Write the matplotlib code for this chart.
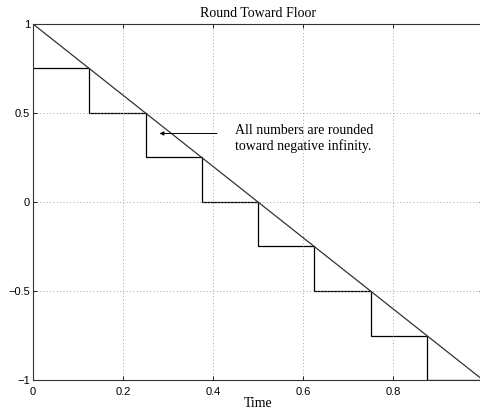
import numpy as np
import matplotlib
matplotlib.use('Agg')
import matplotlib.pyplot as plt

# continuous signal (straight line) and its floor-quantized version
t_line = [0.0, 1.0]
y_line = [1.0, -1.0]

t_edges = [0.0, 0.125, 0.25, 0.375, 0.5, 0.625, 0.75, 0.875, 1.0]
y_floor = [0.75, 0.5, 0.25, 0.0, -0.25, -0.5, -0.75, -1.0]

xticks = [0, 0.2, 0.4, 0.6, 0.8]
yticks = [-1, -0.5, 0, 0.5, 1]

serif = ['Liberation Serif', 'DejaVu Serif']
sans = ['Liberation Sans', 'DejaVu Sans']

fig = plt.figure(figsize=(4.81, 4.11), dpi=100)
ax = fig.add_axes([33/481, 31/411, 450/481, 356/411])

ax.plot(t_line, y_line, color='#333333', lw=0.9)
ax.stairs(y_floor, t_edges, color='black', lw=0.9, baseline=None)

ax.set_xlim(0, 1)
ax.set_ylim(-1, 1)
ax.set_xticks(xticks)
ax.set_yticks(yticks)
ax.set_xticklabels(['0', '0.2', '0.4', '0.6', '0.8'], family=sans, fontsize=8)
ax.set_yticklabels(['\u22121', '\u22120.5', '0', '0.5', '1'], family=sans, fontsize=8)
ax.tick_params(direction='in', length=3, width=0.6, top=True, right=True, pad=2)
ax.tick_params(axis='x', pad=5)
ax.grid(True, linestyle=(0, (1, 3)), color='#888888', lw=0.6)
for s in ax.spines.values():
    s.set_linewidth(0.8)
    s.set_color('#333333')

ax.set_title('Round Toward Floor', family=serif, fontsize=10, pad=5)
ax.set_xlabel('Time', family=serif, fontsize=10, labelpad=0)

ax.annotate('', xy=(0.275, 0.385), xytext=(0.415, 0.385),
            arrowprops=dict(arrowstyle='-|>', color='black', lw=0.7,
                            mutation_scale=6))
ax.text(0.448, 0.357, 'All numbers are rounded\ntoward negative infinity.',
        family=serif, fontsize=10, va='center', ha='left', linespacing=1.2)

fig.savefig('out.png', dpi=100)
